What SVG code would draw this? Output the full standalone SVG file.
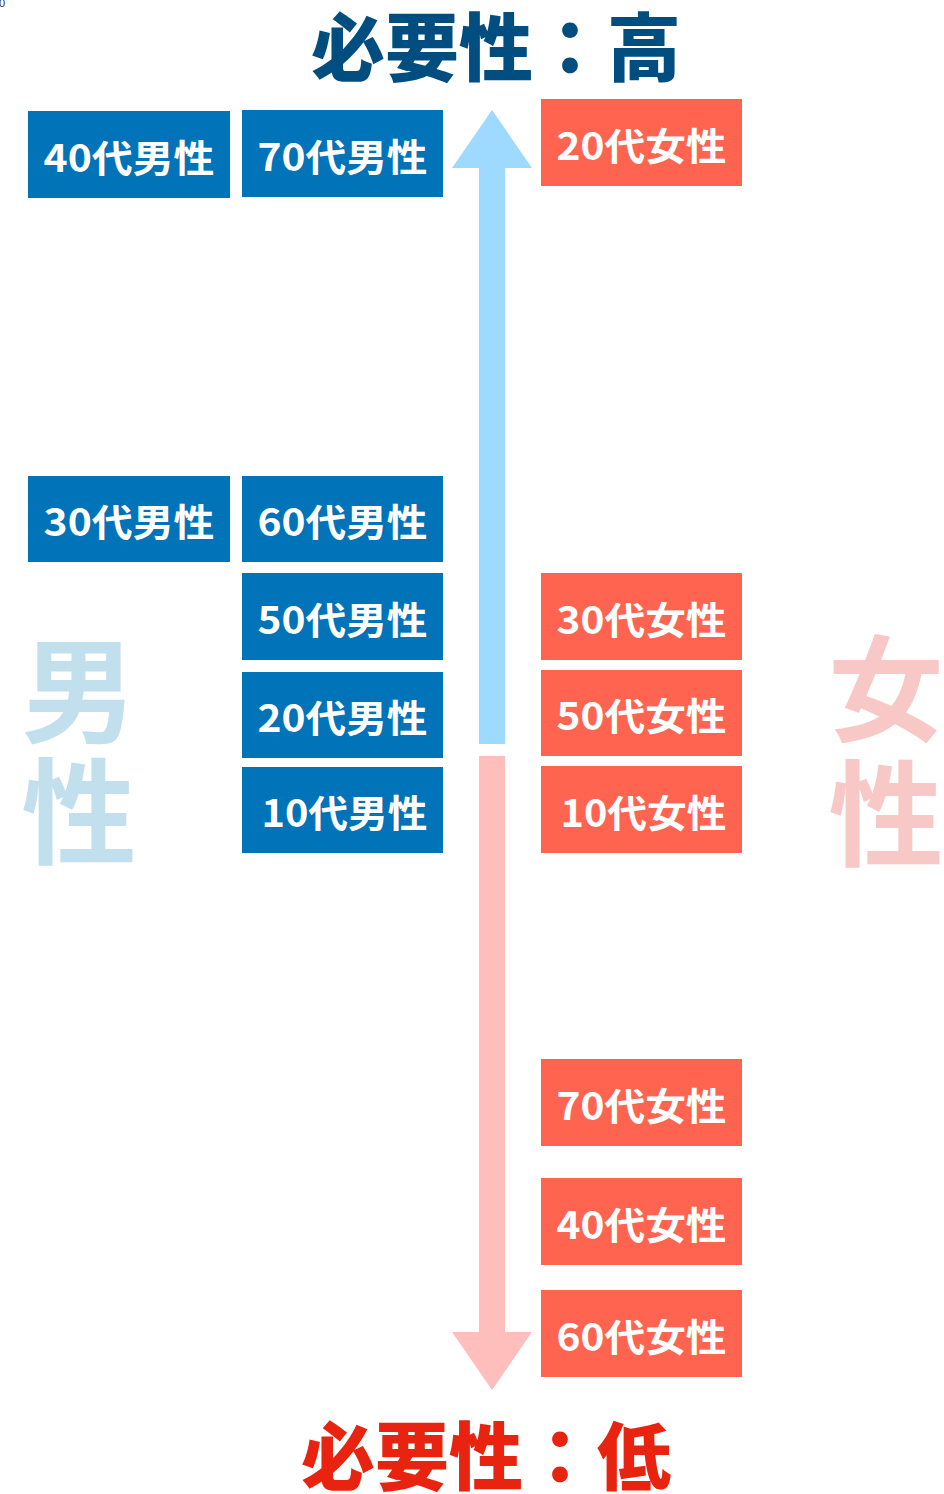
<svg xmlns="http://www.w3.org/2000/svg" width="944" height="1494" viewBox="0 0 944 1494">
<style>
.m rect{fill:#0073b9}
.f rect{fill:#ff6450}
.lbl{font-family:"Noto Sans CJK JP","Noto Sans",sans-serif;font-weight:bold;font-size:38px;fill:#fff;text-anchor:middle}
.title{font-family:"Noto Sans CJK JP",sans-serif;font-weight:900;font-size:74px;text-anchor:middle}
.big{font-family:"Noto Sans CJK JP",sans-serif;font-weight:bold;font-size:115px;text-anchor:middle}
</style>
<rect width="944" height="1494" fill="#fff"/>
<text x="-1" y="7" font-family="Liberation Sans,sans-serif" font-size="11" fill="#333">0</text>
<g id="title-high"><text class="title" x="496" y="75" fill="#004e80">必要性：高</text></g>
<g id="title-low"><text class="title" x="486" y="1484" fill="#e8230f">必要性：低</text></g>
<g id="label-male"><text class="big" x="79" y="734" fill="#c2dfee">男</text><text class="big" x="79" y="855" fill="#c2dfee">性</text></g>
<g id="label-female"><text class="big" x="886" y="732" fill="#f8c8c6">女</text><text class="big" x="886" y="857" fill="#f8c8c6">性</text></g>
<g id="connectors">
<path d="M492 110 L532 168 L505 168 L505 744 L479 744 L479 168 L452 168 Z" fill="#9ed9ff"/>
<path d="M492 1390 L532 1332 L505 1332 L505 756 L479 756 L479 1332 L452 1332 Z" fill="#ffbebb"/>
</g>
<g id="m40" class="m"><rect x="28" y="111" width="202" height="87"/><text class="lbl" x="129" y="171.5" textLength="171" lengthAdjust="spacingAndGlyphs">40代男性</text></g>
<g id="m70" class="m"><rect x="242" y="110" width="201" height="87"/><text class="lbl" x="342.5" y="170.5" textLength="170" lengthAdjust="spacingAndGlyphs">70代男性</text></g>
<g id="m30" class="m"><rect x="28" y="476" width="202" height="86"/><text class="lbl" x="129" y="536" textLength="171" lengthAdjust="spacingAndGlyphs">30代男性</text></g>
<g id="m60" class="m"><rect x="242" y="476" width="201" height="86"/><text class="lbl" x="342.5" y="536" textLength="170" lengthAdjust="spacingAndGlyphs">60代男性</text></g>
<g id="m50" class="m"><rect x="242" y="573" width="201" height="87"/><text class="lbl" x="342.5" y="633.5" textLength="170" lengthAdjust="spacingAndGlyphs">50代男性</text></g>
<g id="m20" class="m"><rect x="242" y="672" width="201" height="86"/><text class="lbl" x="342.5" y="732" textLength="170" lengthAdjust="spacingAndGlyphs">20代男性</text></g>
<g id="m10" class="m"><rect x="242" y="767" width="201" height="86"/><text class="lbl" x="344.5" y="827" textLength="166" lengthAdjust="spacingAndGlyphs">10代男性</text></g>
<g id="f20" class="f"><rect x="541" y="99" width="201" height="87"/><text class="lbl" x="641.5" y="159.5" textLength="170" lengthAdjust="spacingAndGlyphs">20代女性</text></g>
<g id="f30" class="f"><rect x="541" y="573" width="201" height="87"/><text class="lbl" x="641.5" y="633.5" textLength="170" lengthAdjust="spacingAndGlyphs">30代女性</text></g>
<g id="f50" class="f"><rect x="541" y="670" width="201" height="86"/><text class="lbl" x="641.5" y="730" textLength="170" lengthAdjust="spacingAndGlyphs">50代女性</text></g>
<g id="f10" class="f"><rect x="541" y="766" width="201" height="87"/><text class="lbl" x="643.5" y="826.5" textLength="166" lengthAdjust="spacingAndGlyphs">10代女性</text></g>
<g id="f70" class="f"><rect x="541" y="1059" width="201" height="87"/><text class="lbl" x="641.5" y="1119.5" textLength="170" lengthAdjust="spacingAndGlyphs">70代女性</text></g>
<g id="f40" class="f"><rect x="541" y="1178" width="201" height="87"/><text class="lbl" x="641.5" y="1238.5" textLength="170" lengthAdjust="spacingAndGlyphs">40代女性</text></g>
<g id="f60" class="f"><rect x="541" y="1290" width="201" height="87"/><text class="lbl" x="641.5" y="1350.5" textLength="170" lengthAdjust="spacingAndGlyphs">60代女性</text></g>
</svg>
